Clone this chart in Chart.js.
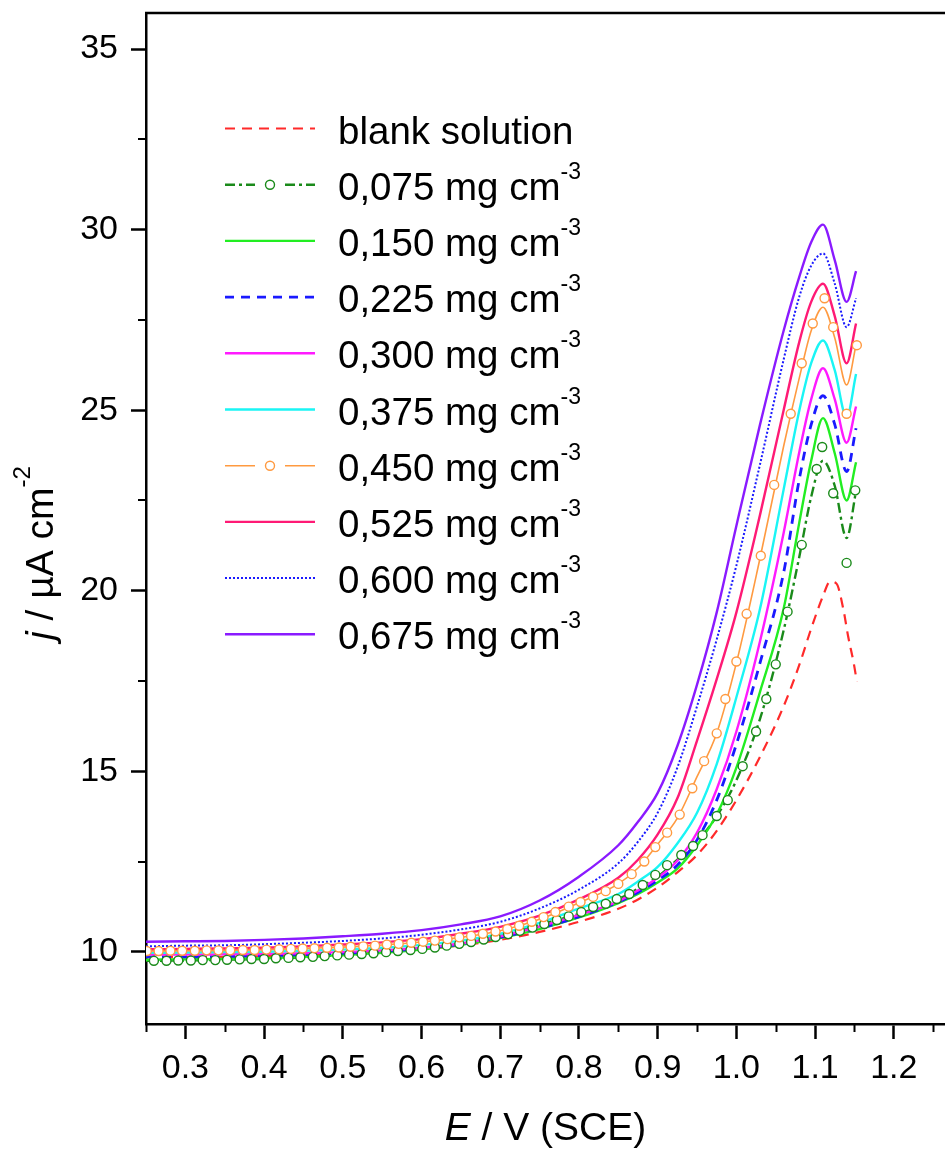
<!DOCTYPE html>
<html>
<head>
<meta charset="utf-8">
<script src="https://cdn.jsdelivr.net/npm/chart.js@4.4.1/dist/chart.umd.min.js"></script>
<style>
  body { margin: 0; background: #fff; }
  canvas { display: block; }
</style>
</head>
<body>
<canvas id="myChart" width="945" height="1149"></canvas>
<script>
// potential grid (V vs SCE) shared by the inhibitor curves
const E = [0.25, 0.30, 0.35, 0.40, 0.45, 0.50, 0.55, 0.60, 0.65, 0.70, 0.75, 0.80, 0.85, 0.875,
  0.90, 0.925, 0.95, 0.975, 1.00, 1.03, 1.06, 1.08, 1.095, 1.11, 1.125, 1.14, 1.152];

// current density, uA cm-2
const j675 = [10.28, 10.29, 10.30, 10.33, 10.37, 10.43, 10.50, 10.60, 10.76, 10.98, 11.42, 12.08, 12.95, 13.60,
  14.40, 15.70, 17.40, 19.40, 21.80, 24.60, 27.20, 28.70, 29.65, 30.14, 29.15, 28.00, 28.85];
const j600 = [10.15, 10.17, 10.18, 10.21, 10.25, 10.30, 10.37, 10.47, 10.62, 10.83, 11.20, 11.72, 12.45, 13.05,
  13.85, 15.10, 16.80, 18.65, 20.70, 23.50, 26.40, 28.15, 29.00, 29.34, 28.50, 27.30, 28.10];
const j525 = [10.07, 10.08, 10.09, 10.11, 10.15, 10.20, 10.26, 10.35, 10.50, 10.69, 11.00, 11.45, 12.05, 12.55,
  13.25, 14.25, 15.85, 17.55, 19.40, 22.10, 25.00, 26.90, 28.00, 28.50, 27.60, 26.30, 27.40];
const j450 = [10.02, 10.03, 10.04, 10.06, 10.09, 10.13, 10.19, 10.27, 10.40, 10.58, 10.90, 11.36, 11.88, 12.32,
  12.98, 13.70, 14.85, 16.05, 18.00, 20.90, 24.00, 25.90, 27.20, 27.85, 27.00, 25.70, 26.80];
const j375 = [9.97, 9.98, 9.99, 10.00, 10.03, 10.06, 10.11, 10.19, 10.31, 10.50, 10.80, 11.20, 11.60, 11.95,
  12.35, 13.00, 13.85, 15.20, 17.05, 19.50, 22.80, 25.00, 26.30, 26.93, 26.10, 24.80, 26.00];
const j300 = [9.92, 9.92, 9.93, 9.94, 9.96, 9.99, 10.04, 10.11, 10.23, 10.43, 10.70, 11.02, 11.40, 11.70,
  12.05, 12.52, 13.30, 14.50, 16.10, 18.60, 21.60, 23.85, 25.30, 26.16, 25.30, 24.10, 25.10];
const j225 = [9.86, 9.86, 9.87, 9.89, 9.92, 9.96, 10.01, 10.09, 10.21, 10.40, 10.65, 10.97, 11.38, 11.65,
  11.98, 12.40, 13.10, 14.20, 15.75, 18.00, 20.50, 23.10, 24.60, 25.40, 24.60, 23.30, 24.50];
const j150 = [9.78, 9.79, 9.80, 9.82, 9.86, 9.91, 9.97, 10.06, 10.19, 10.38, 10.63, 10.95, 11.35, 11.60,
  11.92, 12.30, 12.95, 13.80, 15.10, 17.20, 19.50, 21.90, 23.60, 24.78, 23.80, 22.50, 23.56];
const j075 = [9.75, 9.76, 9.78, 9.80, 9.85, 9.91, 9.98, 10.08, 10.22, 10.44, 10.75, 11.05, 11.46, 11.75,
  12.08, 12.55, 13.05, 13.76, 14.75, 16.45, 18.90, 20.95, 22.60, 23.60, 22.90, 21.46, 22.76];

// blank solution has its own potentials (peak sits a bit further right)
const E_blank = [0.25, 0.30, 0.35, 0.40, 0.45, 0.50, 0.55, 0.60, 0.65, 0.70, 0.75, 0.80, 0.85, 0.875, 0.90,
  0.925, 0.95, 0.975, 1.00, 1.03, 1.06, 1.08, 1.095, 1.11, 1.119, 1.127, 1.136, 1.142, 1.149, 1.153];
const j_blank = [9.85, 9.85, 9.86, 9.88, 9.91, 9.95, 10.00, 10.07, 10.18, 10.33, 10.55, 10.83, 11.19, 11.45, 11.78,
  12.20, 12.68, 13.35, 14.20, 15.40, 16.80, 17.95, 18.95, 19.85, 20.25, 20.20, 19.47, 18.73, 18.00, 17.49];

// symbols of the 0,450 curve
const E_m450 = [0.251, 0.266, 0.281, 0.296, 0.312, 0.327, 0.342, 0.357, 0.373, 0.388,
  0.403, 0.419, 0.434, 0.449, 0.464, 0.480, 0.495, 0.510, 0.526, 0.541,
  0.556, 0.571, 0.587, 0.602, 0.617, 0.633, 0.648, 0.663, 0.678, 0.694,
  0.709, 0.724, 0.740, 0.755, 0.770, 0.787, 0.802, 0.818, 0.834, 0.850,
  0.867, 0.883, 0.897, 0.912, 0.928, 0.944, 0.959, 0.975, 0.986, 1.000,
  1.013, 1.031, 1.048, 1.069, 1.083, 1.097, 1.112, 1.123, 1.140, 1.153];
const j_m450 = [10.02, 10.02, 10.03, 10.03, 10.03, 10.04, 10.04, 10.04, 10.05, 10.05,
  10.06, 10.07, 10.08, 10.09, 10.10, 10.11, 10.12, 10.14, 10.15, 10.17,
  10.20, 10.22, 10.25, 10.28, 10.31, 10.35, 10.40, 10.44, 10.50, 10.56,
  10.63, 10.72, 10.83, 10.96, 11.10, 11.25, 11.38, 11.52, 11.68, 11.88,
  12.15, 12.50, 12.90, 13.30, 13.80, 14.53, 15.28, 16.05, 17.00, 18.04,
  19.36, 20.97, 22.93, 24.90, 26.30, 27.40, 28.10, 27.30, 24.90, 26.80];

// symbols of the 0,075 curve
const E_m075 = [0.260, 0.276, 0.291, 0.307, 0.322, 0.338, 0.353, 0.369, 0.384, 0.400,
  0.415, 0.431, 0.446, 0.462, 0.477, 0.493, 0.508, 0.524, 0.539, 0.555,
  0.570, 0.586, 0.601, 0.617, 0.632, 0.648, 0.663, 0.679, 0.694, 0.710,
  0.725, 0.741, 0.756, 0.772, 0.787, 0.803, 0.818, 0.834, 0.848, 0.864,
  0.881, 0.897, 0.912, 0.930, 0.945, 0.957, 0.975, 0.989, 1.008, 1.025,
  1.038, 1.050, 1.065, 1.083, 1.102, 1.109, 1.123, 1.140, 1.151];
const j_m075 = [9.75, 9.75, 9.76, 9.76, 9.77, 9.77, 9.78, 9.79, 9.80, 9.80,
  9.82, 9.83, 9.85, 9.86, 9.88, 9.90, 9.92, 9.94, 9.96, 9.99,
  10.02, 10.05, 10.08, 10.12, 10.17, 10.22, 10.27, 10.34, 10.41, 10.49,
  10.58, 10.67, 10.77, 10.88, 10.98, 11.10, 11.24, 11.33, 11.46, 11.60,
  11.85, 12.13, 12.40, 12.68, 12.93, 13.23, 13.76, 14.20, 15.14, 16.10,
  17.00, 17.96, 19.42, 21.27, 23.37, 23.98, 22.70, 20.77, 22.78];

// axes
const xTicks = [0.3, 0.4, 0.5, 0.6, 0.7, 0.8, 0.9, 1.0, 1.1, 1.2];
const xMinor = [0.25, 0.35, 0.45, 0.55, 0.65, 0.75, 0.85, 0.95, 1.05, 1.15, 1.25];
const yTicks = [10, 15, 20, 25, 30, 35];
const yMinor = [12.5, 17.5, 22.5, 27.5, 32.5];

// legend rows, top to bottom
const legendNames = ['blank solution', '0,075 mg cm', '0,150 mg cm', '0,225 mg cm', '0,300 mg cm',
  '0,375 mg cm', '0,450 mg cm', '0,525 mg cm', '0,600 mg cm', '0,675 mg cm'];

const styles = [
  { color: '#ff2a2a', width: 2.2, dash: [10, 7] },
  { color: '#1a8a1a', width: 2.4, dash: [10, 4, 3, 4], marker: true },
  { color: '#22ee22', width: 2.4, dash: [] },
  { color: '#1a1aff', width: 2.8, dash: [9, 7] },
  { color: '#ff1aff', width: 2.4, dash: [] },
  { color: '#1af5f5', width: 2.4, dash: [] },
  { color: '#ff9a40', width: 1.6, dash: [], marker: true },
  { color: '#ff1a75', width: 2.4, dash: [] },
  { color: '#1a1aff', width: 2.0, dash: [2, 2] },
  { color: '#8a1aff', width: 2.4, dash: [] }
];

const FONT = '"Liberation Sans", Arial, sans-serif';

function lineSet(xs, ys, st) {
  return {
    data: xs.map((x, i) => ({ x: x, y: ys[i] })),
    showLine: true,
    borderColor: st.color,
    borderWidth: st.width,
    borderDash: st.dash,
    pointRadius: 0,
    cubicInterpolationMode: 'monotone',
    fill: false
  };
}

function markerSet(xs, ys, st) {
  return {
    data: xs.map((x, i) => ({ x: x, y: ys[i] })),
    showLine: false,
    pointStyle: 'circle',
    pointRadius: 4.5,
    pointBorderWidth: 1.4,
    pointBorderColor: st.color,
    pointBackgroundColor: '#ffffff'
  };
}

// first dataset is painted last, so symbols go first
const datasets = [
  markerSet(E_m450, j_m450, styles[6]),
  markerSet(E_m075, j_m075, styles[1]),
  lineSet(E, j675, styles[9]),
  lineSet(E, j600, styles[8]),
  lineSet(E, j525, styles[7]),
  lineSet(E, j450, styles[6]),
  lineSet(E, j375, styles[5]),
  lineSet(E, j300, styles[4]),
  lineSet(E, j225, styles[3]),
  lineSet(E, j150, styles[2]),
  lineSet(E, j075, styles[1]),
  lineSet(E_blank, j_blank, styles[0])
];

function drawText(ctx, parts, x, y) {
  // parts: [text, font, raise]
  parts.forEach(p => {
    ctx.font = p[1];
    ctx.fillText(p[0], x, y - (p[2] || 0));
    x += ctx.measureText(p[0]).width;
  });
  return x;
}

function textWidth(ctx, parts) {
  let w = 0;
  parts.forEach(p => { ctx.font = p[1]; w += ctx.measureText(p[0]).width; });
  return w;
}

const extras = {
  id: 'extras',
  afterDraw(chart) {
    const ctx = chart.ctx;
    const area = chart.chartArea;
    const xs = chart.scales.x;
    const ys = chart.scales.y;
    ctx.save();
    ctx.strokeStyle = '#000';
    ctx.setLineDash([]);

    // top frame line
    ctx.lineWidth = 2.5;
    ctx.beginPath();
    ctx.moveTo(area.left - 1, area.top);
    ctx.lineTo(area.right, area.top);
    ctx.stroke();

    // minor ticks
    ctx.lineWidth = 2;
    ctx.beginPath();
    xMinor.forEach(v => {
      const p = Math.round(xs.getPixelForValue(v)) + 0.5;
      ctx.moveTo(p, area.bottom);
      ctx.lineTo(p, area.bottom + 8);
    });
    yMinor.forEach(v => {
      const p = Math.round(ys.getPixelForValue(v));
      ctx.moveTo(area.left, p);
      ctx.lineTo(area.left - 8, p);
    });
    ctx.stroke();

    // axis titles
    ctx.fillStyle = '#000';
    ctx.textBaseline = 'alphabetic';
    ctx.textAlign = 'left';
    const xt = [['E', 'italic 39px ' + FONT], [' / V (SCE)', '39px ' + FONT]];
    const xw = textWidth(ctx, xt);
    drawText(ctx, xt, (area.left + area.right) / 2 - xw / 2, 1140);

    const yt = [['j', 'italic 39px ' + FONT], [' / \u00b5A cm', '39px ' + FONT], ['-2', '24px ' + FONT, 23]];
    const yw = textWidth(ctx, yt);
    ctx.save();
    ctx.translate(53, 553);
    ctx.rotate(-Math.PI / 2);
    drawText(ctx, yt, -yw / 2, 0);
    ctx.restore();

    // legend
    const rowTop = area.top + 115.5;
    const rowGap = 56.2;
    const x0 = area.left + 79, x1 = area.left + 169, xm = area.left + 124;
    legendNames.forEach((name, i) => {
      const st = styles[i];
      const y = rowTop + i * rowGap;
      ctx.strokeStyle = st.color;
      ctx.lineWidth = st.width;
      ctx.setLineDash(st.dash);
      ctx.beginPath();
      if (st.marker) {
        ctx.moveTo(x0, y); ctx.lineTo(xm - 15, y);
        ctx.moveTo(xm + 15, y); ctx.lineTo(x1, y);
      } else {
        ctx.moveTo(x0, y); ctx.lineTo(x1, y);
      }
      ctx.stroke();
      if (st.marker) {
        ctx.setLineDash([]);
        ctx.lineWidth = 1.4;
        ctx.fillStyle = '#fff';
        ctx.beginPath();
        ctx.arc(xm, y, 4.5, 0, Math.PI * 2);
        ctx.fill();
        ctx.stroke();
      }
      ctx.fillStyle = '#000';
      const parts = [[name, '38.5px ' + FONT]];
      if (i > 0) parts.push(['-3', '23px ' + FONT, 21]);
      drawText(ctx, parts, area.left + 192, y + 15);
    });
    ctx.restore();
  }
};

const config = {
  type: 'scatter',
  data: { datasets: datasets },
  options: {
    responsive: false,
    animation: false,
    events: [],
    layout: { autoPadding: false, padding: { top: 13, right: 0, bottom: 0, left: 0 } },
    plugins: { legend: { display: false }, tooltip: { enabled: false } },
    scales: {
      x: {
        type: 'linear',
        min: 0.25,
        max: 1.265,
        afterBuildTicks: (axis) => { axis.ticks = xTicks.map(v => ({ value: v })); },
        afterFit: (axis) => {
          axis.height = 125;
          axis.paddingLeft = 0;
          axis.paddingRight = 0;
        },
        grid: { drawOnChartArea: false, drawTicks: true, tickLength: 15, tickWidth: 2.5, tickColor: '#000' },
        border: { display: true, color: '#000', width: 2.5 },
        ticks: {
          color: '#000',
          padding: 9,
          maxRotation: 0,
          font: { family: FONT, size: 34 },
          callback: (v) => v.toFixed(1)
        }
      },
      y: {
        type: 'linear',
        min: 8,
        max: 36,
        afterBuildTicks: (axis) => { axis.ticks = yTicks.map(v => ({ value: v })); },
        afterFit: (axis) => {
          axis.width = 146;
          axis.paddingTop = 0;
          axis.paddingBottom = 0;
        },
        grid: { drawOnChartArea: false, drawTicks: true, tickLength: 15, tickWidth: 2.5, tickColor: '#000' },
        border: { display: true, color: '#000', width: 2.5 },
        ticks: {
          color: '#000',
          padding: 13,
          font: { family: FONT, size: 34 },
          callback: (v) => String(v)
        }
      }
    }
  },
  plugins: [extras]
};

const myChart = new Chart(document.getElementById('myChart'), config);
</script>
</body>
</html>
